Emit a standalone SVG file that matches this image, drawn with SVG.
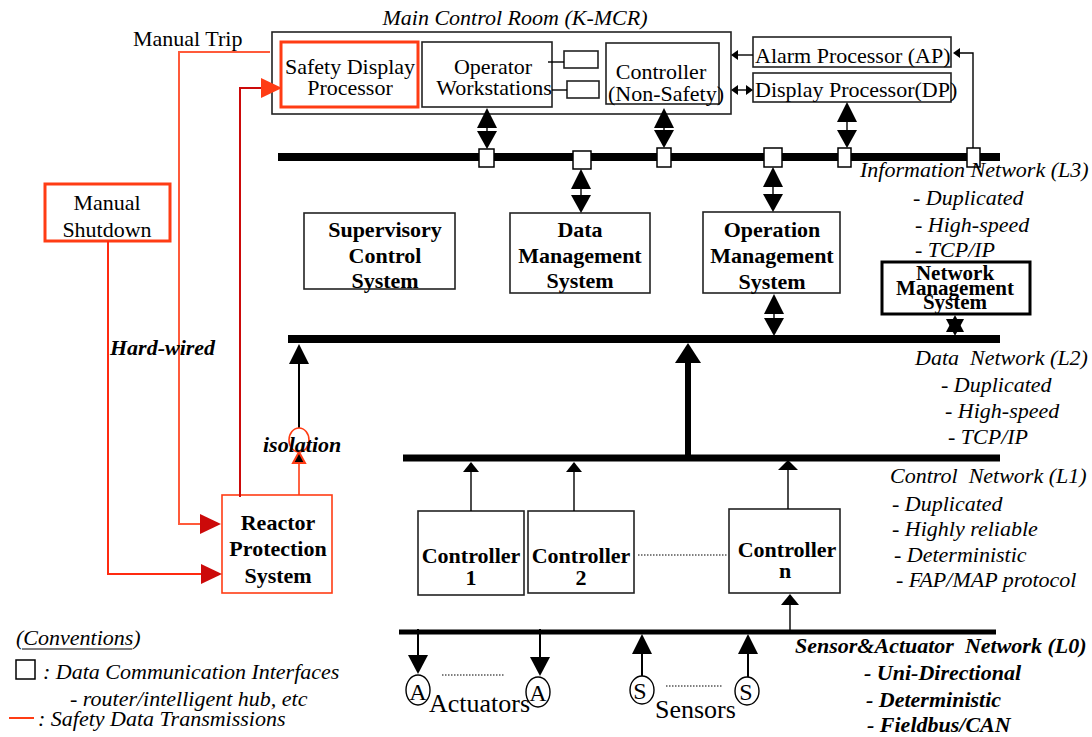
<svg xmlns="http://www.w3.org/2000/svg" xmlns:xlink="http://www.w3.org/1999/xlink" width="1092" height="737" viewBox="0 0 1092 737">
<style>
text{font-family:"Liberation Serif","Times New Roman",serif;font-size:22px;fill:#000}
.it{font-style:italic}
.b{font-weight:bold}
.bi{font-weight:bold;font-style:italic}
.c{text-anchor:middle}
.box{fill:#fff;stroke:#222;stroke-width:1.6}
.rbox{fill:#fff;stroke:#ff3c14;stroke-width:3}
.bus{stroke:#000;stroke-width:8;fill:none}
.thin{stroke:#000;stroke-width:1.4;fill:none}
.red{stroke:#ff3c14;stroke-width:2;fill:none}
.dred{stroke:#cc0a0a;stroke-width:2;fill:none}
.sq{fill:#fff;stroke:#000;stroke-width:1.5}
.dot{stroke:#000;stroke-width:1.2;stroke-dasharray:1.5 1.5;fill:none}
.tri{fill:#000}
</style>
<defs>
<path id="up" d="M0,0 L-10,20 L10,20 Z"/>
<path id="dn" d="M0,0 L-10,-18 L10,-18 Z"/>
<path id="sup" d="M0,0 L-8,10 L8,10 Z"/>
<path id="bup" d="M0,0 L-13,20 L13,20 Z"/>
<path id="rr" d="M0,0 L-21,-10 L-21,10 Z"/>
<path id="sl" d="M0,0 L7,-5 L7,5 Z"/>
<path id="sr" d="M0,0 L-7,-5 L-7,5 Z"/>
</defs>

<text class="it c" x="515" y="25">Main Control Room (K-MCR)</text>
<g id="mcr">
<rect class="box" x="272" y="32" width="459" height="82"/>
</g>
<g id="safety-display">
<rect class="rbox" x="281" y="42" width="137" height="65"/>
<text class="c" x="350" y="74">Safety Display</text>
<text class="c" x="350" y="95">Processor</text>
</g>
<g id="operator-ws">
<rect class="box" x="422" y="42" width="130" height="65"/>
<text class="c" x="493" y="74">Operator</text>
<text class="c" x="494" y="95">Workstations</text>
</g>
<g id="ws-box1"><rect class="box" x="564" y="51" width="34" height="17"/></g>
<g id="ws-box2"><rect class="box" x="567" y="81" width="32" height="17"/></g>
<g id="controller-ns">
<rect class="box" x="606" y="43" width="113" height="61" fill="none"/>
<text class="c" x="661" y="79">Controller</text>
<text class="c" x="666" y="101">(Non-Safety)</text>
</g>
<g id="alarm-proc">
<rect class="box" x="753" y="37" width="198" height="30"/>
<text x="755" y="63">Alarm Processor (AP)</text>
</g>
<g id="display-proc">
<rect class="box" x="753" y="73" width="198" height="29"/>
<text x="755" y="97">Display Processor(DP)</text>
</g>
<g id="manual-trip"><text x="133" y="46">Manual Trip</text></g>
<g id="manual-shutdown">
<rect class="rbox" x="45" y="184" width="125" height="57"/>
<text class="c" x="107" y="210">Manual</text>
<text class="c" x="107" y="237">Shutdown</text>
</g>
<g id="supervisory">
<rect class="box" x="304" y="213" width="151" height="76"/>
<text class="b c" x="385" y="237">Supervisory</text>
<text class="b c" x="385" y="263">Control</text>
<text class="b c" x="385" y="288">System</text>
</g>
<g id="data-mgmt">
<rect class="box" x="510" y="213" width="140" height="80"/>
<text class="b c" x="580" y="237">Data</text>
<text class="b c" x="580" y="263">Management</text>
<text class="b c" x="580" y="288">System</text>
</g>
<g id="op-mgmt">
<rect class="box" x="703" y="212" width="137" height="81"/>
<text class="b c" x="772" y="237">Operation</text>
<text class="b c" x="772" y="263">Management</text>
<text class="b c" x="772" y="289">System</text>
</g>
<g id="net-mgmt">
<rect x="882" y="262" width="148" height="52" fill="#fff" stroke="#000" stroke-width="3"/>
<text class="b c" x="955" y="280" style="font-size:21px">Network</text>
<text class="b c" x="955" y="295" style="font-size:21px">Management</text>
<text class="b c" x="955" y="309" style="font-size:21px">System</text>
</g>
<g id="rps">
<rect x="222" y="495" width="110" height="98" fill="#fff" stroke="#ff3c14" stroke-width="1.6"/>
<text class="b c" x="278" y="530">Reactor</text>
<text class="b c" x="278" y="556">Protection</text>
<text class="b c" x="278" y="583">System</text>
</g>
<g id="controller1">
<rect class="box" x="418" y="511" width="106" height="84"/>
<text class="b c" x="471" y="563">Controller</text>
<text class="b c" x="471" y="585">1</text>
</g>
<g id="controller2">
<rect class="box" x="528" y="511" width="106" height="82"/>
<text class="b c" x="581" y="563">Controller</text>
<text class="b c" x="581" y="585">2</text>
</g>
<g id="controllern">
<rect class="box" x="729" y="509" width="111" height="84"/>
<text class="b c" x="787" y="557">Controller</text>
<text class="b c" x="785" y="578">n</text>
</g>
<g id="actuator1"><ellipse cx="418" cy="690" rx="12" ry="15" fill="none" stroke="#000" stroke-width="1.4"/><text class="c" x="418" y="700" style="font-size:24px">A</text></g>
<g id="actuator2"><ellipse cx="538" cy="692" rx="12" ry="15" fill="none" stroke="#000" stroke-width="1.4"/><text class="c" x="538" y="701" style="font-size:24px">A</text></g>
<g id="sensor1"><ellipse cx="642" cy="690" rx="12" ry="14" fill="none" stroke="#000" stroke-width="1.4"/><text class="c" x="640" y="699" style="font-size:24px">S</text></g>
<g id="sensor2"><ellipse cx="747" cy="691" rx="12" ry="14" fill="none" stroke="#000" stroke-width="1.4"/><text class="c" x="746" y="700" style="font-size:24px">S</text></g>
<text x="429" y="712" style="font-size:26px">Actuators</text>
<text x="655" y="718" style="font-size:26px">Sensors</text>

<g id="connectors">
<!-- buses -->
<line class="bus" x1="278" y1="157" x2="1000" y2="157"/>
<line class="bus" x1="288" y1="339" x2="1000" y2="339"/>
<line class="bus" x1="403" y1="458" x2="1000" y2="458" style="stroke-width:7"/>
<line class="bus" x1="399" y1="632" x2="996" y2="632" style="stroke-width:5"/>
<!-- MCR internal -->
<line class="thin" x1="548" y1="62" x2="564" y2="62"/>
<line class="thin" x1="552" y1="90" x2="567" y2="90"/>
<!-- AP / DP arrows -->
<line class="thin" x1="738" y1="55" x2="753" y2="55"/>
<use href="#sl" x="731" y="55"/>
<line class="thin" x1="738" y1="90" x2="746" y2="90"/>
<use href="#sl" x="731" y="90"/>
<use href="#sr" x="753" y="90"/>
<polyline class="thin" points="973,149 973,53 960,53"/>
<use href="#sl" x="953" y="53"/>
<!-- double arrows L3 -->
<use href="#up" x="487" y="108"/><line class="thin" x1="487" y1="128" x2="487" y2="132"/><use href="#dn" x="487" y="149"/>
<use href="#up" x="664" y="108"/><line class="thin" x1="664" y1="128" x2="664" y2="131"/><use href="#dn" x="664" y="148"/>
<use href="#up" x="847" y="102"/><line class="thin" x1="847" y1="122" x2="847" y2="131"/><use href="#dn" x="847" y="148"/>
<use href="#up" x="581" y="169"/><line class="thin" x1="581" y1="189" x2="581" y2="195"/><use href="#dn" x="581" y="213"/>
<use href="#up" x="773" y="167"/><line class="thin" x1="773" y1="187" x2="773" y2="194"/><use href="#dn" x="773" y="212"/>
<!-- squares on L3 -->
<rect class="sq" x="479" y="149" width="15" height="18"/>
<rect class="sq" x="573" y="151" width="18" height="18"/>
<rect class="sq" x="657" y="148" width="14" height="19"/>
<rect class="sq" x="764" y="148" width="18" height="19"/>
<rect class="sq" x="838" y="148" width="13" height="19"/>
<rect class="sq" x="967" y="148" width="13" height="19"/>
<!-- L2 arrows -->
<use href="#up" x="774" y="294"/><line class="thin" x1="774" y1="313" x2="774" y2="320"/><use href="#dn" x="774" y="336"/>
<path class="tri" d="M955,315 L946,332 L964,332 Z"/>
<path class="tri" d="M955,336 L946,319 L964,319 Z"/>
<line x1="299" y1="362" x2="299" y2="428" stroke="#000" stroke-width="2"/>
<use href="#up" x="299" y="344"/>
<line x1="688" y1="360" x2="688" y2="458" stroke="#000" stroke-width="6"/>
<use href="#bup" x="688" y="343"/>
<!-- isolation -->
<ellipse cx="299" cy="440" rx="10" ry="12" fill="none" stroke="#ff3c14" stroke-width="1.6"/>
<line class="red" x1="299" y1="463" x2="299" y2="495" style="stroke-width:1.6"/>
<path d="M299,452 L293,463 L305,463 Z" fill="#000" stroke="#ff3c14" stroke-width="2"/>
<!-- L1 arrows -->
<line class="thin" x1="471" y1="470" x2="471" y2="511"/><use href="#sup" x="471" y="462"/>
<line class="thin" x1="574" y1="470" x2="574" y2="511"/><use href="#sup" x="574" y="462"/>
<line class="thin" x1="788" y1="468" x2="788" y2="509"/><path class="tri" d="M788,460 L778,470 L798,470 Z"/>
<line class="dot" x1="638" y1="555" x2="727" y2="555"/>
<!-- L0 arrows -->
<line class="thin" x1="790" y1="603" x2="790" y2="630"/><path class="tri" d="M790,594 L781,605 L799,605 Z"/>
<line x1="418" y1="629" x2="418" y2="657" stroke="#000" stroke-width="2"/><path class="tri" d="M418,674 L408,655 L428,655 Z"/>
<line x1="540" y1="629" x2="540" y2="657" stroke="#000" stroke-width="2"/><path class="tri" d="M540,676 L530,657 L550,657 Z"/>
<line x1="642" y1="652" x2="642" y2="676" stroke="#000" stroke-width="2"/><path class="tri" d="M642,634 L632,654 L652,654 Z"/>
<line x1="748" y1="652" x2="748" y2="677" stroke="#000" stroke-width="2"/><path class="tri" d="M748,634 L738,654 L758,654 Z"/>
<line class="dot" x1="442" y1="675" x2="505" y2="675"/>
<line class="dot" x1="666" y1="686" x2="722" y2="686"/>
<!-- safety lines -->
<polyline class="red" points="270,52 179,52 179,524 200,524" style="stroke:#ff5a3a"/>
<use href="#rr" x="221" y="524" fill="#cc0a0a"/>
<polyline class="dred" points="240,497 240,88 262,88"/>
<use href="#rr" x="282" y="88" fill="#ff3c14"/>
<polyline class="red" points="108,241 108,574 202,574" style="stroke:#ff2a10"/>
<use href="#rr" x="222" y="574" fill="#cc0a0a"/>
</g>

<g id="labels">
<text class="bi" x="110" y="355">Hard-wired</text>
<text class="bi" x="263" y="452">isolation</text>
<text class="it" x="860" y="177">Information Network (L3)</text>
<text class="it" x="913" y="205">- Duplicated</text>
<text class="it" x="915" y="232">- High-speed</text>
<text class="it" x="915" y="257">- TCP/IP</text>
<text class="it" x="915" y="365" xml:space="preserve">Data  Network (L2)</text>
<text class="it" x="941" y="392">- Duplicated</text>
<text class="it" x="945" y="418">- High-speed</text>
<text class="it" x="948" y="444">- TCP/IP</text>
<text class="it" x="890" y="483" xml:space="preserve">Control  Network (L1)</text>
<text class="it" x="892" y="511">- Duplicated</text>
<text class="it" x="892" y="536">- Highly reliable</text>
<text class="it" x="894" y="562">- Deterministic</text>
<text class="it" x="896" y="587">- FAP/MAP protocol</text>
<text class="bi" x="795" y="653" xml:space="preserve">Sensor&amp;Actuator  Network (L0)</text>
<text class="bi" x="864" y="680">- Uni-Directional</text>
<text class="bi" x="866" y="707">- Deterministic</text>
<text class="bi" x="867" y="732">- Fieldbus/CAN</text>
</g>

<g id="conventions">
<text class="it" x="16" y="645">(Conventions)</text>
<line x1="22" y1="649" x2="132" y2="649" stroke="#000" stroke-width="1.2"/>
<rect class="sq" x="16" y="660" width="19" height="19"/>
<text class="it" x="43" y="679">: Data Communication Interfaces</text>
<text class="it" x="70" y="706">- router/intelligent hub, etc</text>
<line x1="9" y1="718" x2="34" y2="718" stroke="#ff3c14" stroke-width="2"/>
<text class="it" x="38" y="726">: Safety Data Transmissions</text>
</g>
</svg>
